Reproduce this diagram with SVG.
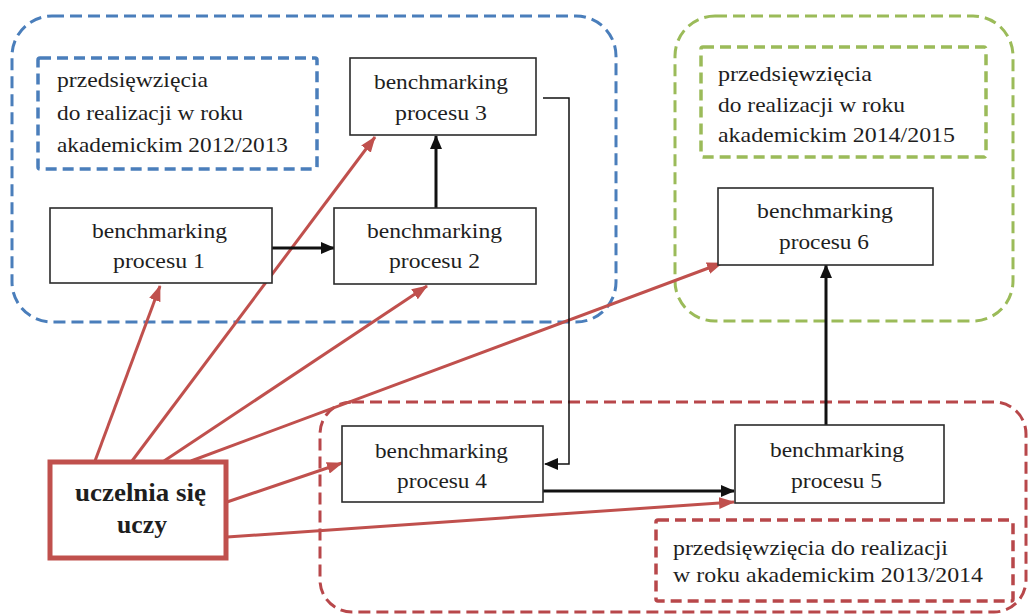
<svg xmlns="http://www.w3.org/2000/svg" width="1030" height="615" viewBox="0 0 1030 615">
  <style>
    .zone { fill: none; stroke-width: 3; stroke-dasharray: 12 6; }
    .note { fill: none; stroke-width: 3.5; stroke-dasharray: 11 6; }
    .blue { stroke: #4a7ebb; }
    .green { stroke: #9bbb59; }
    .red { stroke: #b8474a; }
    .box { fill: #ffffff; stroke: #2b2b2b; stroke-width: 1.6; }
    .txt { font-family: "Liberation Serif", "Times New Roman", serif; font-size: 22px; fill: #1e1e1e; }
    .bold { font-weight: bold; font-size: 25px; }
    .link { fill: none; stroke: #111; stroke-width: 3; }
    .thin { fill: none; stroke: #111; stroke-width: 1.5; }
    .rlink { fill: none; stroke: #c0504d; stroke-width: 3; }
  </style>
  <defs>
    <marker id="ab" markerUnits="userSpaceOnUse" markerWidth="14" markerHeight="12" refX="13" refY="6" orient="auto">
      <path d="M0,0 L14,6 L0,12 z" fill="#111"/>
    </marker>
    <marker id="ar" markerUnits="userSpaceOnUse" markerWidth="16" markerHeight="12" refX="15" refY="6" orient="auto">
      <path d="M0,0 L16,6 L0,12 z" fill="#c0504d"/>
    </marker>
  </defs>

  <rect width="1030" height="615" fill="#ffffff"/>

  <!-- year zones -->
  <g id="zone-2012">
    <rect class="zone blue" x="12" y="16" width="604" height="306" rx="40"/>
    <rect class="note blue" x="38" y="58" width="279" height="111" rx="2"/>
    <text class="txt" x="57" y="87" textLength="151" lengthAdjust="spacingAndGlyphs">przedsięwzięcia</text>
    <text class="txt" x="57" y="120" textLength="186" lengthAdjust="spacingAndGlyphs">do realizacji w roku</text>
    <text class="txt" x="57" y="152" textLength="231" lengthAdjust="spacingAndGlyphs">akademickim 2012/2013</text>
  </g>
  <g id="zone-2014">
    <rect class="zone green" x="675" y="16" width="338" height="305" rx="40"/>
    <rect class="note green" x="701" y="47" width="285" height="110" rx="2"/>
    <text class="txt" x="718" y="81" textLength="154" lengthAdjust="spacingAndGlyphs">przedsięwzięcia</text>
    <text class="txt" x="718" y="112" textLength="187" lengthAdjust="spacingAndGlyphs">do realizacji w roku</text>
    <text class="txt" x="718" y="142" textLength="237" lengthAdjust="spacingAndGlyphs">akademickim 2014/2015</text>
  </g>
  <g id="zone-2013">
    <rect class="zone red" x="320" y="402" width="706" height="210" rx="32"/>
    <rect class="note red" x="656" y="520" width="357" height="81" rx="2"/>
    <text class="txt" x="673" y="555" textLength="275" lengthAdjust="spacingAndGlyphs">przedsięwzięcia do realizacji</text>
    <text class="txt" x="673" y="582" textLength="310" lengthAdjust="spacingAndGlyphs">w roku  akademickim 2013/2014</text>
  </g>

  <!-- connectors -->
  <g id="connectors">
    <line class="rlink" x1="95" y1="461" x2="160" y2="286" marker-end="url(#ar)"/>
    <line class="rlink" x1="132" y1="461" x2="375" y2="137" marker-end="url(#ar)"/>
    <line class="rlink" x1="164" y1="461" x2="427" y2="286" marker-end="url(#ar)"/>
    <line class="rlink" x1="191" y1="461" x2="722" y2="263" marker-end="url(#ar)"/>
    <line class="rlink" x1="227" y1="502" x2="342" y2="463" marker-end="url(#ar)"/>
    <line class="rlink" x1="227" y1="537" x2="734" y2="502" marker-end="url(#ar)"/>
    <line class="link" x1="272" y1="248" x2="334" y2="248" marker-end="url(#ab)"/>
    <line class="link" x1="436" y1="208" x2="436" y2="136" marker-end="url(#ab)"/>
    <line class="link" x1="543" y1="491" x2="734" y2="491" marker-end="url(#ab)"/>
    <line class="link" x1="826" y1="425" x2="826" y2="265" marker-end="url(#ab)"/>
    <path class="thin" d="M543,98 H569 V464 H545" marker-end="url(#ab)"/>
  </g>

  <!-- process nodes -->
  <g id="p1">
    <rect class="box" x="50" y="208" width="222" height="75"/>
    <text class="txt" x="92" y="238" textLength="135" lengthAdjust="spacingAndGlyphs">benchmarking</text>
    <text class="txt" x="113" y="268" textLength="92" lengthAdjust="spacingAndGlyphs">procesu 1</text>
  </g>
  <g id="p2">
    <rect class="box" x="334" y="208" width="202" height="76"/>
    <text class="txt" x="367" y="238" textLength="135" lengthAdjust="spacingAndGlyphs">benchmarking</text>
    <text class="txt" x="389" y="268" textLength="91" lengthAdjust="spacingAndGlyphs">procesu 2</text>
  </g>
  <g id="p3">
    <rect class="box" x="350" y="58" width="186" height="77"/>
    <text class="txt" x="374" y="89" textLength="134" lengthAdjust="spacingAndGlyphs">benchmarking</text>
    <text class="txt" x="395" y="120" textLength="92" lengthAdjust="spacingAndGlyphs">procesu 3</text>
  </g>
  <g id="p4">
    <rect class="box" x="342" y="426" width="201" height="76"/>
    <text class="txt" x="375" y="458" textLength="133" lengthAdjust="spacingAndGlyphs">benchmarking</text>
    <text class="txt" x="397" y="488" textLength="90" lengthAdjust="spacingAndGlyphs">procesu 4</text>
  </g>
  <g id="p5">
    <rect class="box" x="735" y="425" width="209" height="78"/>
    <text class="txt" x="770" y="457" textLength="134" lengthAdjust="spacingAndGlyphs">benchmarking</text>
    <text class="txt" x="791" y="488" textLength="91" lengthAdjust="spacingAndGlyphs">procesu 5</text>
  </g>
  <g id="p6">
    <rect class="box" x="718" y="188" width="215" height="77"/>
    <text class="txt" x="757" y="218" textLength="136" lengthAdjust="spacingAndGlyphs">benchmarking</text>
    <text class="txt" x="779" y="249" textLength="90" lengthAdjust="spacingAndGlyphs">procesu 6</text>
  </g>

  <!-- source node -->
  <g id="uczelnia">
    <rect x="50" y="462" width="176" height="96" fill="#ffffff" stroke="#c0504d" stroke-width="5"/>
    <text class="txt bold" x="75" y="501" textLength="131" lengthAdjust="spacingAndGlyphs">uczelnia się</text>
    <text class="txt bold" x="117" y="533" textLength="50" lengthAdjust="spacingAndGlyphs">uczy</text>
  </g>
</svg>
